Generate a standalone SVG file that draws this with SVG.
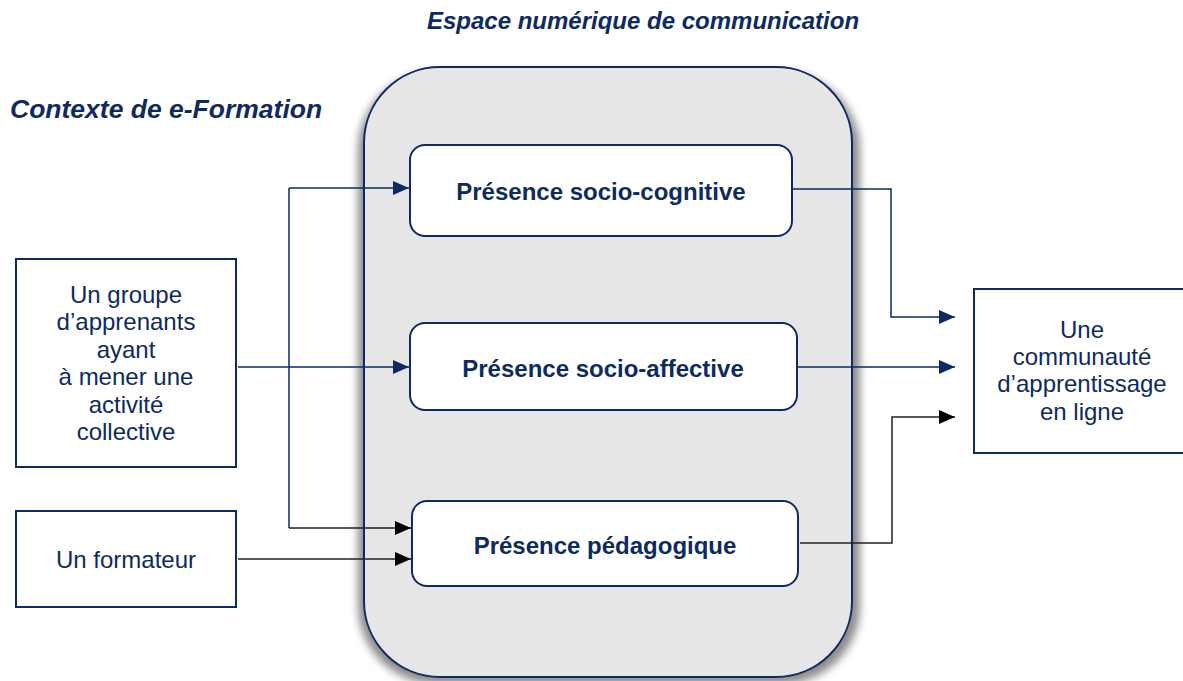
<svg xmlns="http://www.w3.org/2000/svg" width="1183" height="681" viewBox="0 0 1183 681">
<defs>
<style>
.t{font-family:"Liberation Sans",Arial,sans-serif;fill:#0d2a62}
.node{fill:#fff;stroke:#0d2a62;stroke-width:2}
.lbl{font-size:24px;text-anchor:middle}
.blbl{font-size:24px;font-weight:bold;text-anchor:middle}
.ttl{font-weight:bold;font-style:italic}
.cn{fill:none;stroke:#0d2a62;stroke-width:1.5}
.ck{fill:none;stroke:#222;stroke-width:1.5}
</style>
<marker id="an" markerUnits="userSpaceOnUse" markerWidth="16" markerHeight="16" viewBox="0 0 16 16" refX="16" refY="8" orient="auto"><path d="M0,1 L16,8 L0,15 Z" fill="#0d2a62"/></marker>
<marker id="ak" markerUnits="userSpaceOnUse" markerWidth="16" markerHeight="16" viewBox="0 0 16 16" refX="16" refY="8" orient="auto"><path d="M0,1 L16,8 L0,15 Z" fill="#000"/></marker>
<filter id="sh" x="-10%" y="-10%" width="120%" height="120%"><feGaussianBlur stdDeviation="4"/></filter>
</defs>
<rect width="1183" height="681" fill="#fff"/>
<text class="t ttl" x="643" y="29" font-size="24" text-anchor="middle">Espace numérique de communication</text>
<text class="t ttl" x="10" y="118" font-size="26.5">Contexte de e-Formation</text>
<g id="espace">
<rect x="358" y="72" width="502" height="612" rx="78" fill="#000" opacity="0.45" filter="url(#sh)"/>
<rect x="364" y="67" width="488" height="610" rx="76" fill="#e6e6e6" stroke="#0d2a62" stroke-width="2"/>
</g>
<g id="connectors">
<path class="cn" d="M289,188 H409" marker-end="url(#an)"/>
<path class="cn" d="M238,367 H409" marker-end="url(#an)"/>
<path class="cn" d="M289,188 V528"/>
<path class="ck" d="M289,528 H411" marker-end="url(#ak)"/>
<path class="ck" d="M238,559 H411" marker-end="url(#ak)"/>
<path class="cn" d="M792,189 H891 V317 H955" marker-end="url(#an)"/>
<path class="cn" d="M797,367 H955" marker-end="url(#an)"/>
<path class="ck" d="M800,543 H892 V417 H955" marker-end="url(#ak)"/>
</g>
<g id="socio-cognitive">
<rect class="node" x="410" y="145" width="382" height="91" rx="15"/>
<text class="t blbl" x="601" y="200">Présence socio-cognitive</text>
</g>
<g id="socio-affective">
<rect class="node" x="410" y="323" width="387" height="87" rx="15"/>
<text class="t blbl" x="603" y="377">Présence socio-affective</text>
</g>
<g id="pedagogique">
<rect class="node" x="412" y="501" width="386" height="85" rx="15"/>
<text class="t blbl" x="605" y="554">Présence pédagogique</text>
</g>
<g id="groupe">
<rect x="16" y="259" width="220" height="208" fill="#fff" stroke="#0d2a62" stroke-width="2"/>
<text class="t lbl" x="126" y="303">Un groupe</text>
<text class="t lbl" x="126" y="330.4">d’apprenants</text>
<text class="t lbl" x="126" y="357.8">ayant</text>
<text class="t lbl" x="126" y="385.2">à mener une</text>
<text class="t lbl" x="126" y="412.6">activité</text>
<text class="t lbl" x="126" y="440">collective</text>
</g>
<g id="formateur">
<rect x="16" y="511" width="220" height="96" fill="#fff" stroke="#0d2a62" stroke-width="2"/>
<text class="t lbl" x="126" y="568">Un formateur</text>
</g>
<g id="communaute">
<rect x="974" y="289" width="216" height="164" fill="#fff" stroke="#0d2a62" stroke-width="2"/>
<text class="t lbl" x="1082" y="338">Une</text>
<text class="t lbl" x="1082" y="365">communauté</text>
<text class="t lbl" x="1082" y="392">d’apprentissage</text>
<text class="t lbl" x="1082" y="420">en ligne</text>
</g>
</svg>
